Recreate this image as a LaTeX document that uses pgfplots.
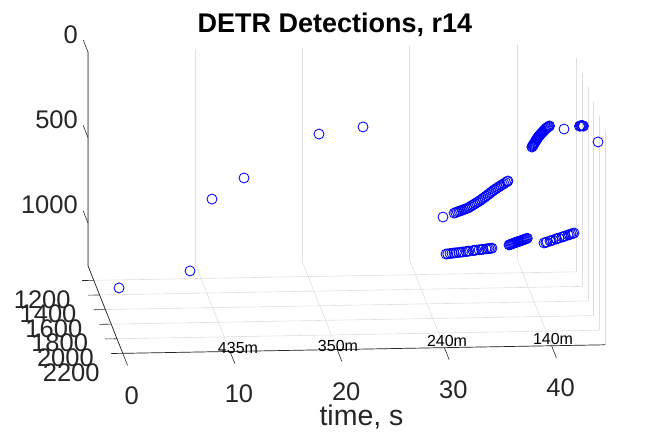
\documentclass[border=0pt]{standalone}
\usepackage{fontspec}
\setmainfont{Liberation Sans}
\usepackage{pgfplots}
\pgfplotsset{compat=1.18}
\definecolor{axgray}{RGB}{38,38,38}
\definecolor{gridgray}{RGB}{223,223,223}

% detections: time (s), range, height
\pgfplotstableread{
t y z
0.19 2000 953
6.81 2000 861
8.86 2000 443
11.85 2000 323
18.84 2000 74
22.95 2000 37
38.70 2000 172
38.75 2000 167
38.80 2000 163
38.85 2000 158
38.90 2000 153
38.95 2000 148
39.00 2000 143
39.05 2000 138
39.10 2000 133
39.15 2000 127
39.20 2000 122
39.25 2000 118
39.30 2000 113
39.38 2000 108
39.45 2000 103
39.53 2000 97
39.60 2000 92
39.68 2000 87
39.75 2000 82
39.83 2000 77
39.90 2000 72
39.98 2000 67
40.05 2000 63
40.13 2000 59
40.20 2000 56
40.28 2000 53
40.35 2000 50
41.70 2000 70
43.14 2000 55
43.22 2000 53
43.30 2000 52
43.38 2000 52
43.46 2000 53
43.51 2000 55
44.87 2000 149
30.41 2000 572
31.45 2000 550
31.60 2000 547
31.75 2000 543
31.90 2000 540
32.05 2000 537
32.20 2000 534
32.35 2000 530
32.50 2000 527
32.65 2000 524
32.80 2000 520
32.95 2000 514
33.10 2000 508
33.25 2000 503
33.40 2000 497
33.55 2000 491
33.70 2000 486
33.85 2000 480
34.00 2000 474
34.15 2000 467
34.30 2000 460
34.45 2000 453
34.60 2000 446
34.75 2000 439
34.90 2000 432
35.05 2000 425
35.20 2000 418
35.35 2000 412
35.50 2000 406
35.65 2000 400
35.80 2000 394
35.95 2000 388
36.10 2000 383
36.25 2000 377
36.40 2000 371
36.47 2000 368
30.69 2000 789
30.85 2000 788
31.06 2000 786
31.25 2000 785
31.44 2000 783
31.65 2000 782
31.90 2000 781
32.10 2000 779
32.28 2000 778
32.56 2000 776
32.70 2000 775
32.84 2000 774
33.21 2000 771
33.35 2000 770
33.49 2000 769
33.77 2000 767
34.00 2000 766
34.14 2000 765
34.42 2000 763
34.55 2000 762
34.70 2000 761
34.85 2000 760
34.98 2000 759
36.57 2000 742
36.66 2000 740
36.75 2000 738
36.84 2000 736
36.93 2000 734
37.02 2000 732
37.11 2000 730
37.20 2000 728
37.29 2000 726
37.38 2000 724
37.47 2000 723
37.56 2000 721
37.65 2000 719
37.74 2000 717
37.83 2000 715
37.92 2000 713
38.01 2000 711
38.10 2000 709
38.19 2000 707
38.28 2000 705
39.83 2000 734
40.00 2000 731
40.11 2000 729
40.39 2000 723
40.50 2000 721
40.67 2000 718
40.95 2000 712
41.00 2000 711
41.23 2000 707
41.51 2000 701
41.65 2000 699
41.79 2000 696
42.07 2000 690
42.20 2000 688
42.35 2000 685
42.50 2000 682
42.63 2000 679
}\detr

\begin{document}
\begin{tikzpicture}
\begin{axis}[
  x={(10.72pt,0.19pt)}, y={(0.029pt,-0.073pt)}, z={(0pt,-0.171pt)},
  xmin=0, xmax=45, ymin=1000, ymax=2200, zmin=0, zmax=1250,
  xtick={0,10,...,40}, ytick={1200,1400,...,2200}, ztick={0,500,1000},
  xticklabels={}, yticklabels={}, zticklabels={},
  xmajorgrids, ymajorgrids,
  grid style={gridgray, line width=0.6pt},
  axis line style={draw=none},
  major tick length=0pt,
  clip=false,
]
\coordinate (TL) at (axis cs:0,1000,0);

% axis lines and ticks
\draw[axgray, line width=0.7pt] (axis cs:0,1000,0) -- (axis cs:0,1000,1250) -- (axis cs:0,2200,1250) -- (axis cs:45,2200,1250);
\draw[axgray, line width=0.6pt]
  (axis cs:0,1000,0) -- (axis cs:0,835,0)
  (axis cs:0,1000,500) -- (axis cs:0,835,500)
  (axis cs:0,1000,1000) -- (axis cs:0,835,1000)
  (axis cs:0,1200,1250) -- (axis cs:-1.1,1200,1250)
  (axis cs:0,1400,1250) -- (axis cs:-1.1,1400,1250)
  (axis cs:0,1600,1250) -- (axis cs:-1.1,1600,1250)
  (axis cs:0,1800,1250) -- (axis cs:-1.1,1800,1250)
  (axis cs:0,2000,1250) -- (axis cs:-1.1,2000,1250)
  (axis cs:0,2200,1250) -- (axis cs:-1.1,2200,1250)
  (axis cs:0,2200,1250) -- (axis cs:0,2365,1250)
  (axis cs:10,2200,1250) -- (axis cs:10,2365,1250)
  (axis cs:20,2200,1250) -- (axis cs:20,2365,1250)
  (axis cs:30,2200,1250) -- (axis cs:30,2365,1250)
  (axis cs:40,2200,1250) -- (axis cs:40,2365,1250);

% tick labels
\tikzset{tl/.style={font=\fontsize{25.5}{26}\selectfont, text=axgray, inner sep=0pt}}
\node[tl, anchor=east] at ([xshift=-10pt, yshift=17.5pt]axis cs:0,1000,0) {0};
\node[tl, anchor=east] at ([xshift=-10pt, yshift=17.5pt]axis cs:0,1000,500) {500};
\node[tl, anchor=east] at ([xshift=-10pt, yshift=18pt]axis cs:0,1000,1000) {1000};
\node[tl, anchor=east] at ([xshift=-23pt, yshift=-19pt]axis cs:0,1200,1250) {1200};
\node[tl, anchor=east] at ([xshift=-23pt, yshift=-19pt]axis cs:0,1400,1250) {1400};
\node[tl, anchor=east] at ([xshift=-23pt, yshift=-19pt]axis cs:0,1600,1250) {1600};
\node[tl, anchor=east] at ([xshift=-23pt, yshift=-19pt]axis cs:0,1800,1250) {1800};
\node[tl, anchor=east] at ([xshift=-23pt, yshift=-19pt]axis cs:0,2000,1250) {2000};
\node[tl, anchor=east] at ([xshift=-23pt, yshift=-19pt]axis cs:0,2200,1250) {2200};
\node[tl] at ([xshift=9pt, yshift=-42pt]axis cs:0,2200,1250) {0};
\node[tl] at ([xshift=9pt, yshift=-42pt]axis cs:10,2200,1250) {10};
\node[tl] at ([xshift=9pt, yshift=-42pt]axis cs:20,2200,1250) {20};
\node[tl] at ([xshift=9pt, yshift=-42pt]axis cs:30,2200,1250) {30};
\node[tl] at ([xshift=9pt, yshift=-42pt]axis cs:40,2200,1250) {40};

% range annotations
\tikzset{rl/.style={font=\fontsize{16}{16}\selectfont, text=black, inner sep=0pt, anchor=west}}
\node[rl] at (axis cs:8.86,2200,1228) {435m};
\node[rl] at (axis cs:18.19,2200,1227) {350m};
\node[rl] at (axis cs:28.36,2200,1209) {240m};
\node[rl] at (axis cs:38.25,2200,1208) {140m};

\addplot3[only marks, mark=o, mark size=5pt, color=blue, mark options={line width=0.85pt}]
  table[x=t, y=y, z=z] {\detr};
\end{axis}

\node[font=\bfseries\fontsize{27}{27}\selectfont, anchor=base] at ([xshift=247pt, yshift=19pt]TL) {DETR Detections, r14};
\node[font=\fontsize{28.5}{29}\selectfont, text=axgray, anchor=base] at ([xshift=273.5pt, yshift=-374pt]TL) {time, s};

\pgfresetboundingbox
\path[use as bounding box] ([xshift=-88pt, yshift=52pt]TL) rectangle ++(672pt,-438pt);
\end{tikzpicture}
\end{document}
